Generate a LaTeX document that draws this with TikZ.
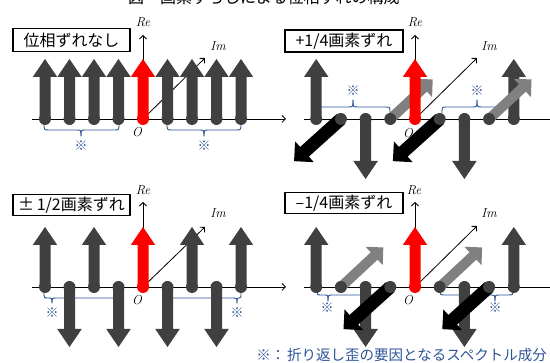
\documentclass[tikz,border=0pt]{standalone}
\usepackage{fontspec}
\newfontfamily\jp{Noto Sans CJK JP}
\usetikzlibrary{arrows.meta}
\definecolor{dk}{HTML}{404040}
\definecolor{lg}{HTML}{808080}
\definecolor{bl}{HTML}{2F5597}
\tikzset{
 axisline/.style={line width=0.8pt, -{Straight Barb[length=3.5pt,width=7pt]}},
 bracestyle/.style={bl, line width=0.9pt, line cap=round},
 lbl/.style={draw=black, line width=1.1pt, fill=white, inner sep=0pt, minimum height=22pt, font=\jp\fontsize{16}{16}\selectfont},
 axlbl/.style={font=\fontsize{13}{13}\selectfont\itshape, inner sep=0pt},
 kome/.style={text=bl, font=\jp\fontsize{13}{13}\selectfont, inner sep=0pt},
}
% generic arrow: pos, angle, length, shaft width, head width, head length, colour
\newcommand\myarr[7]{%
 \begin{scope}[shift={#1},rotate=#2]
 \fill[#7] (0pt,{-#4pt/2}) -- ({#3pt-#6pt},{-#4pt/2}) -- ({#3pt-#6pt},{-#5pt/2}) -- (#3pt,0pt) -- ({#3pt-#6pt},{#5pt/2}) -- ({#3pt-#6pt},{#4pt/2}) -- (0pt,{#4pt/2}) -- cycle;
 \end{scope}}
\newcommand\mydarr[3]{\myarr{#1}{#2}{60}{11}{24.5}{18}{#3}\fill[#3] #1 circle (6pt);}
\newcommand\myblk[1]{\myarr{#1}{222}{63}{13}{28}{14}{black}\fill[dk] #1 circle (6pt);}
\newcommand\mygry[1]{\myarr{#1}{43}{58}{10}{25}{12.5}{lg}\fill[dk] #1 circle (6pt);}
% half brace: end x, tip x, end y, line y, tip y, end radius, tip radius
\newcommand\hbr[7]{\draw[bracestyle] (#1,#3) .. controls (#1,#4) .. ({#1+#6},#4) -- ({#2-#7},#4) .. controls (#2,#4) .. (#2,#5);}
\begin{document}
\begin{tikzpicture}[x=1pt,y=-1pt]
\useasboundingbox (0,0) rectangle (550,363);
\fill[white] (0,0) rectangle (550,363);

\node[anchor=base west, font=\jp\fontsize{16}{16}\selectfont, inner sep=0pt] (title) at (128,3.5) {図　画素ずらしによる位相ずれの構成};

% ---------- panel 1 ----------
\coordinate (A1l) at (32,119); \coordinate (A1r) at (286,119);
\coordinate (O1) at (143,119); \coordinate (Re1) at (143,35); \coordinate (Im1) at (205,58);
\draw[axisline] (A1l) -- (A1r);
\draw[axisline] (O1) -- (Re1);
\draw[axisline] (O1) -- (Im1);
\hbr{44}{81}{123}{130}{136}{5}{5} \hbr{119}{81}{123}{130}{136}{-5}{-5}
\hbr{167}{204}{123}{130}{136}{5}{5} \hbr{241}{204}{123}{130}{136}{-5}{-5}
\foreach \x in {45,69.5,94,118.5,167.5,192,216.5,241} {\mydarr{(\x,119)}{90}{dk}}
\mydarr{(143,119)}{90}{red}
\node[axlbl] (re1) at (143,22) {Re};
\node[axlbl] (im1) at (218,46) {Im};
\node[axlbl] (o1) at (137,132) {O};
\node[kome] (k1a) at (81,146) {※};
\node[kome] (k1b) at (204,146) {※};
\node[lbl, minimum width=117pt, minimum height=23pt] (b1) at (71.5,40) {位相ずれなし};

% ---------- panel 2 ----------
\coordinate (A2l) at (304,119); \coordinate (A2r) at (556,119);
\coordinate (O2) at (415,119); \coordinate (Re2) at (415,35); \coordinate (Im2) at (477,58);
\draw[axisline] (A2l) -- (A2r);
\draw[axisline] (O2) -- (Re2);
\draw[axisline] (O2) -- (Im2);
\hbr{317}{353}{113}{107}{100}{5}{5} \hbr{390}{353}{113}{107}{100}{-5}{-5}
\hbr{442}{477}{113}{107}{100}{5}{5} \hbr{513}{477}{113}{107}{100}{-5}{-5}
\mydarr{(316.2,119)}{90}{dk}
\mydarr{(513.8,119)}{90}{dk}
\mydarr{(365.6,119)}{270}{dk}
\mydarr{(464.4,119)}{270}{dk}
\mygry{(390.3,119)}
\mygry{(489.1,119)}
\myblk{(340.9,119)}
\myblk{(439.7,119)}
\mydarr{(415,119)}{90}{red}
\node[axlbl] (re2) at (415,22) {Re};
\node[axlbl] (im2) at (489,46) {Im};
\node[axlbl] (o2) at (408,133) {O};
\node[kome] (k2a) at (353,91) {※};
\node[kome] (k2b) at (477,91) {※};
\node[lbl, minimum width=118pt] (b2) at (344,41) {+1/4画素ずれ};

% ---------- panel 3 ----------
\coordinate (A3l) at (32,287); \coordinate (A3r) at (286,287);
\coordinate (O3) at (143,287); \coordinate (Re3) at (143,202); \coordinate (Im3) at (205,227);
\draw[axisline] (A3l) -- (A3r);
\draw[axisline] (O3) -- (Re3);
\draw[axisline] (O3) -- (Im3);
\hbr{44}{52}{292}{298}{303}{4}{4} \hbr{119}{52}{292}{298}{303}{-5}{-5}
\hbr{167}{237}{292}{298}{303}{5}{5} \hbr{241}{237}{292}{298}{303}{-2}{-2}
\foreach \x in {45,94,192,241} {\mydarr{(\x,287)}{90}{dk}}
\foreach \x in {69.5,118.5,167.5,216.5} {\mydarr{(\x,287)}{270}{dk}}
\mydarr{(143,287)}{90}{red}
\node[axlbl] (re3) at (143,190) {Re};
\node[axlbl] (im3) at (218,213) {Im};
\node[axlbl] (o3) at (137,300) {O};
\node[kome] (k3a) at (52,313) {※};
\node[kome] (k3b) at (237,313) {※};
\node[lbl, minimum width=117pt, minimum height=21pt] (b3) at (71.5,205) {±\,1/2画素ずれ};

% ---------- panel 4 ----------
\coordinate (A4l) at (304,287); \coordinate (A4r) at (556,287);
\coordinate (O4) at (415,287); \coordinate (Re4) at (415,202); \coordinate (Im4) at (477,226);
\draw[axisline] (A4l) -- (A4r);
\draw[axisline] (O4) -- (Re4);
\draw[axisline] (O4) -- (Im4);
\hbr{317}{328}{289}{295}{301}{4}{4} \hbr{390}{328}{289}{295}{301}{-5}{-5}
\hbr{440}{495}{289}{295}{301}{5}{5} \hbr{513}{495}{289}{295}{301}{-5}{-5}
\mydarr{(316.2,287)}{90}{dk}
\mydarr{(513.8,287)}{90}{dk}
\mygry{(340.9,287)}
\mygry{(439.7,287)}
\mydarr{(365.6,287)}{270}{dk}
\mydarr{(464.4,287)}{270}{dk}
\myblk{(390.3,287)}
\myblk{(489.1,287)}
\mydarr{(415,287)}{90}{red}
\node[axlbl] (re4) at (414,190) {Re};
\node[axlbl] (im4) at (489,213) {Im};
\node[axlbl] (o4) at (408,300) {O};
\node[kome] (k4a) at (327,308) {※};
\node[kome] (k4b) at (495,308) {※};
\node[lbl, minimum width=118pt, minimum height=21pt] (b4) at (344,203) {–1/4画素ずれ};

% ---------- footnote ----------
\node[anchor=east, text=bl, font=\jp\fontsize{14.5}{14.5}\selectfont, inner sep=0pt] (note) at (547,355) {※：\hspace{2pt}折り返し歪の要因となるスペクトル成分};
\end{tikzpicture}
\end{document}
